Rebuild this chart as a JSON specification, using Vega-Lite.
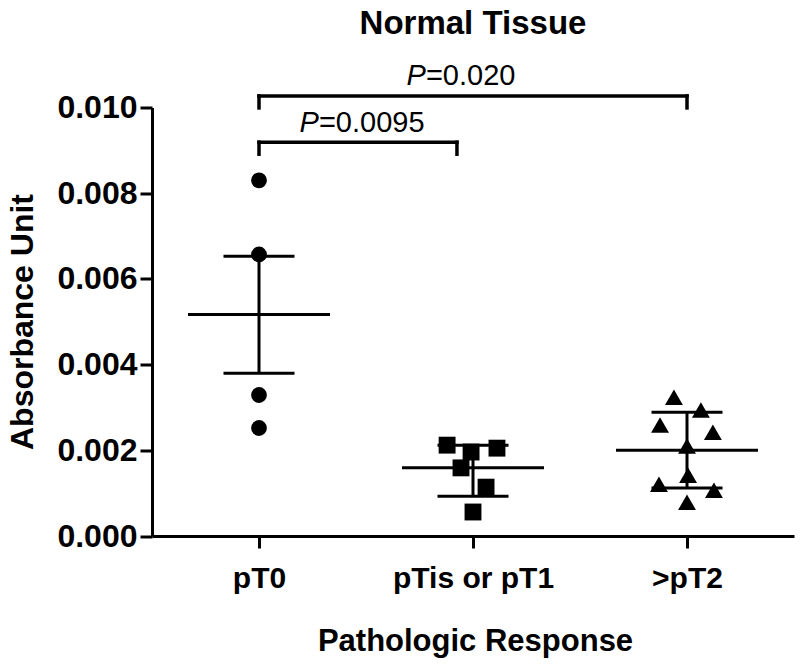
{
  "$schema": "https://vega.github.io/schema/vega-lite/v6.json",
  "width": 642,
  "height": 428.5,
  "autosize": {"type": "none"},
  "padding": {"left": 152, "top": 107.5, "right": 6, "bottom": 133},
  "background": "white",
  "config": {
    "view": {"stroke": null},
    "font": "Liberation Sans",
    "axis": {"grid": false, "domainColor": "black", "domainWidth": 3, "tickColor": "black", "tickWidth": 3, "tickSize": 12, "labelColor": "black", "titleColor": "black", "labelFont": "Liberation Sans", "titleFont": "Liberation Sans", "labelFontWeight": "bold", "titleFontWeight": "bold", "labelFontSize": 29, "titleFontSize": 31}
  },
  "title": {"text": "Normal Tissue", "fontSize": 33, "font": "Liberation Sans", "fontWeight": "bold", "color": "black", "anchor": "middle", "offset": 21},
  "datasets": {
    "points": [
      {"group": "pT0", "pos": 1.0, "value": 0.0083},
      {"group": "pT0", "pos": 1.0, "value": 0.00657},
      {"group": "pT0", "pos": 1.0, "value": 0.00329},
      {"group": "pT0", "pos": 1.0, "value": 0.00252},
      {"group": "pTis or pT1", "pos": 1.879, "value": 0.00212},
      {"group": "pTis or pT1", "pos": 1.991, "value": 0.00196},
      {"group": "pTis or pT1", "pos": 2.112, "value": 0.00205},
      {"group": "pTis or pT1", "pos": 1.944, "value": 0.00159},
      {"group": "pTis or pT1", "pos": 2.061, "value": 0.00114},
      {"group": "pTis or pT1", "pos": 2.0, "value": 0.00056},
      {"group": ">pT2", "pos": 2.939, "value": 0.00324},
      {"group": ">pT2", "pos": 3.065, "value": 0.00294},
      {"group": ">pT2", "pos": 2.874, "value": 0.00259},
      {"group": ">pT2", "pos": 3.121, "value": 0.00242},
      {"group": ">pT2", "pos": 3.0, "value": 0.0021},
      {"group": ">pT2", "pos": 3.005, "value": 0.00142},
      {"group": ">pT2", "pos": 2.869, "value": 0.00121},
      {"group": ">pT2", "pos": 3.126, "value": 0.00107},
      {"group": ">pT2", "pos": 3.0, "value": 0.00079}
    ],
    "summary": [
      {"group": "pT0", "pos": 1, "mean": 0.00517, "lo": 0.0038, "hi": 0.00653},
      {"group": "pTis or pT1", "pos": 2, "mean": 0.00159, "lo": 0.00093, "hi": 0.00212},
      {"group": ">pT2", "pos": 3, "mean": 0.002, "lo": 0.00112, "hi": 0.00289}
    ],
    "brackets": [
      {"x1": 1, "x2": 1.925, "y1": 0.00919, "y2": 0.00919},
      {"x1": 1, "x2": 1, "y1": 0.00919, "y2": 0.00891},
      {"x1": 1.925, "x2": 1.925, "y1": 0.00919, "y2": 0.00891},
      {"x1": 1, "x2": 3, "y1": 0.01027, "y2": 0.01027},
      {"x1": 1, "x2": 1, "y1": 0.01027, "y2": 0.00999},
      {"x1": 3, "x2": 3, "y1": 0.01027, "y2": 0.00999}
    ],
    "pvalues": [
      {"pos": 1.28, "y": 0.00943, "p": "P", "rest": "=0.0095"},
      {"pos": 1.78, "y": 0.01052, "p": "P", "rest": "=0.020"}
    ]
  },
  "layer": [
    {
      "data": {"name": "summary"},
      "mark": {"type": "rule", "color": "black", "strokeWidth": 3},
      "encoding": {
        "x": {"field": "pos", "type": "quantitative", "scale": {"domain": [0.5, 3.5], "nice": false, "zero": false},
          "axis": {"values": [1, 2, 3], "labelExpr": "datum.value == 1 ? 'pT0' : datum.value == 2 ? 'pTis or pT1' : '>pT2'", "labelPadding": 15, "labelFontSize": 30, "title": "Pathologic Response", "titleX": 323, "titleY": 90, "titleBaseline": "top", "titleAnchor": "middle", "labelFlush": false}},
        "y": {"field": "lo", "type": "quantitative", "scale": {"domain": [0, 0.01], "nice": false},
          "axis": {"values": [0, 0.002, 0.004, 0.006, 0.008, 0.01], "format": ".3f", "labelPadding": 3, "labelFontSize": 32, "title": "Absorbance Unit", "titleFontSize": 32, "titleX": -130, "titleY": 214, "titleAngle": -90, "titleBaseline": "middle", "titleAlign": "center", "labelFlush": false}},
        "y2": {"field": "hi"}
      }
    },
    {
      "data": {"name": "summary"},
      "mark": {"type": "tick", "color": "black", "opacity": 1, "orient": "horizontal", "size": 142, "thickness": 3},
      "encoding": {
        "x": {"field": "pos", "type": "quantitative"},
        "y": {"field": "mean", "type": "quantitative"}
      }
    },
    {
      "data": {"name": "summary"},
      "mark": {"type": "tick", "color": "black", "opacity": 1, "orient": "horizontal", "size": 71, "thickness": 3},
      "encoding": {
        "x": {"field": "pos", "type": "quantitative"},
        "y": {"field": "lo", "type": "quantitative"}
      }
    },
    {
      "data": {"name": "summary"},
      "mark": {"type": "tick", "color": "black", "opacity": 1, "orient": "horizontal", "size": 71, "thickness": 3},
      "encoding": {
        "x": {"field": "pos", "type": "quantitative"},
        "y": {"field": "hi", "type": "quantitative"}
      }
    },
    {
      "data": {"name": "points"},
      "mark": {"type": "point", "filled": true, "color": "black", "opacity": 1},
      "encoding": {
        "x": {"field": "pos", "type": "quantitative"},
        "y": {"field": "value", "type": "quantitative"},
        "shape": {"field": "group", "type": "nominal", "scale": {"domain": ["pT0", "pTis or pT1", ">pT2"], "range": ["circle", "square", "triangle-up"]}, "legend": null},
        "size": {"field": "group", "type": "nominal", "scale": {"domain": ["pT0", "pTis or pT1", ">pT2"], "range": [250, 320, 330]}, "legend": null}
      }
    },
    {
      "data": {"name": "brackets"},
      "mark": {"type": "rule", "color": "black", "strokeWidth": 3.5, "strokeCap": "square"},
      "encoding": {
        "x": {"field": "x1", "type": "quantitative"},
        "x2": {"field": "x2"},
        "y": {"field": "y1", "type": "quantitative"},
        "y2": {"field": "y2"}
      }
    },
    {
      "data": {"name": "pvalues"},
      "mark": {"type": "text", "align": "right", "baseline": "alphabetic", "fontSize": 29, "fontStyle": "italic", "color": "black", "font": "Liberation Sans"},
      "encoding": {
        "x": {"field": "pos", "type": "quantitative"},
        "y": {"field": "y", "type": "quantitative"},
        "text": {"field": "p"}
      }
    },
    {
      "data": {"name": "pvalues"},
      "mark": {"type": "text", "align": "left", "baseline": "alphabetic", "fontSize": 29, "color": "black", "font": "Liberation Sans"},
      "encoding": {
        "x": {"field": "pos", "type": "quantitative"},
        "y": {"field": "y", "type": "quantitative"},
        "text": {"field": "rest"}
      }
    }
  ]
}
